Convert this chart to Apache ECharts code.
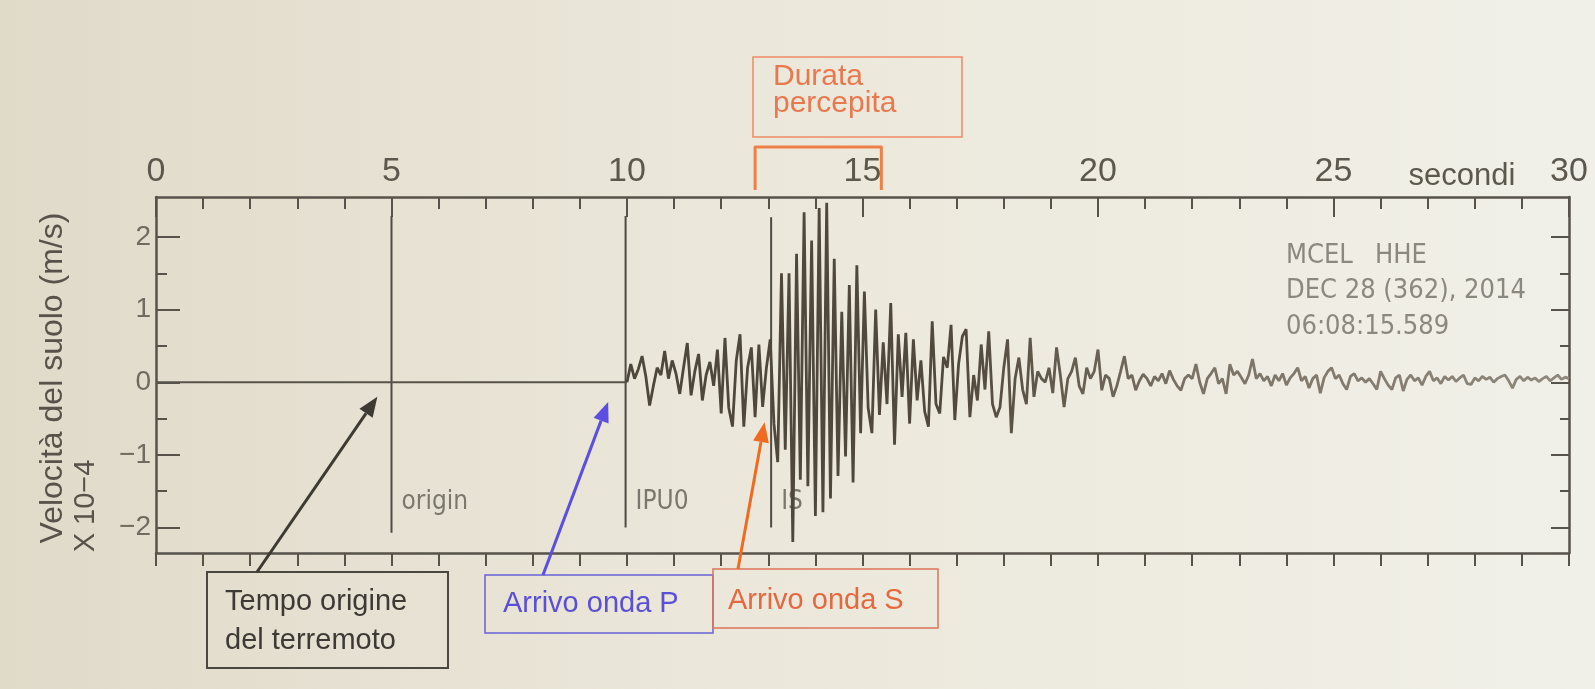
<!DOCTYPE html>
<html>
<head>
<meta charset="utf-8">
<title>Sismogramma MCEL HHE</title>
<script src="https://cdn.jsdelivr.net/npm/echarts@6/dist/echarts.min.js"></script>
<style>
  html, body { margin: 0; padding: 0; }
  #chart { width: 1595px; height: 689px; }
</style>
</head>
<body>
<div id="chart"></div>
<script>
// asse dei tempi (secondi) e della velocita' (x 10^-4 m/s)
const timeMin = 0;
const timeMax = 30;
const timeStep = 5;
const velMin = -2.35;
const velMax = 2.55;
const velTicks = [-2, -1, 0, 1, 2];
const velMinorTicks = [-1.5, -0.5, 0.5, 1.5];

// tratto piatto prima dell'arrivo P
const quietTimes = [0, 10];
const quietValues = [0, 0];

// traccia HHE, un campione ogni 0.08 s da 10 s
const traceStart = 10;
const traceStep = 0.08;
const traceValues = [
  0.00, 0.25, 0.05, 0.18, 0.36, 0.08, -0.32, -0.05, 0.20, 0.10,
  0.43, 0.05, 0.30, 0.12, -0.16, 0.20, 0.54, -0.18, 0.15, 0.39,
  -0.25, 0.10, 0.28, -0.05, 0.45, -0.43, 0.61, -0.35, -0.61, 0.30,
  0.66, -0.61, 0.20, 0.48, -0.48, 0.52, -0.34, 0.20, 0.59, -0.57,
  -1.10, 1.50, -0.93, 1.50, -2.20, 1.77, -1.34, 2.34, -1.43, 1.95,
  -1.84, 2.40, -1.79, 2.47, -1.60, 1.70, -1.29, 0.97, -1.02, 1.34,
  -1.38, 1.61, -0.70, 1.25, -0.35, -0.70, 1.00, -0.45, 0.55, -0.30,
  1.09, -0.86, 0.66, -0.20, 0.68, -0.57, 0.59, -0.25, 0.30, -0.40,
  -0.61, 0.84, -0.30, -0.43, 0.35, 0.20, 0.79, -0.52, 0.25, 0.63,
  0.73, -0.48, 0.10, -0.25, 0.52, -0.10, 0.70, -0.30, -0.48, -0.34,
  0.20, 0.59, -0.70, 0.05, 0.34, -0.10, -0.30, 0.61, -0.20, 0.15,
  0.05, 0.00, 0.20, -0.15, 0.48, 0.10, -0.34, 0.05, 0.15, 0.34,
  -0.05, -0.16, 0.20, 0.05, 0.15, 0.45, -0.11, 0.10, 0.05, -0.20,
  -0.05, 0.15, 0.36, 0.05, 0.10, -0.11, 0.02, 0.11, 0.05, -0.05,
  0.08, 0.02, 0.12, -0.02, 0.16, 0.04, -0.05, -0.11, 0.05, 0.10,
  0.05, 0.25, 0.00, -0.16, 0.05, 0.12, 0.20, -0.02, 0.05, -0.16,
  0.25, 0.10, 0.15, 0.07, -0.02, 0.10, 0.32, 0.05, 0.12, 0.02,
  0.08, -0.05, 0.10, 0.02, 0.12, -0.04, 0.06, 0.12, 0.20, 0.02,
  0.08, -0.08, 0.05, 0.10, -0.15, 0.06, 0.15, 0.20, 0.05, 0.10,
  -0.02, -0.10, 0.08, 0.12, 0.02, 0.06, 0.00, 0.05, -0.02, -0.10,
  0.15, 0.05, -0.04, -0.10, 0.06, 0.10, -0.12, 0.04, 0.10, 0.02,
  0.06, -0.04, 0.08, 0.15, 0.02, 0.06, -0.02, 0.08, 0.03, 0.08,
  0.01, 0.06, 0.10, -0.02, -0.03, 0.06, 0.02, 0.08, 0.04, 0.07,
  0.00, 0.05, 0.08, 0.10, 0.02, -0.08, 0.04, 0.08, 0.02, 0.07,
  0.03, 0.06, 0.01, 0.05, 0.08, 0.02, 0.06, 0.10, 0.04, 0.07,
  0.05
];

// letture (origin, P, S)
const pickTimes = [5, 9.97, 13.06];
const pickLabels = ['origin', 'IPU0', 'IS'];
const pickTop = [2.29, 2.29, 2.27];
const pickBottom = [-2.07, -2.0, -2.0];
const pickLabelLevel = -1.65;

// punte delle frecce e durata percepita (tempo, velocita')
const originTip = [4.7, -0.2];
const pArrivalTip = [9.6, -0.27];
const sArrivalTip = [12.92, -0.55];
const feltDuration = [12.72, 15.4];

const AXIS = '#57534b';
const SANS = '"Liberation Sans", Arial, sans-serif';
const NARROW = '"Liberation Sans Narrow", "DejaVu Sans Condensed", "Liberation Sans", sans-serif';

const chart = echarts.init(document.getElementById('chart'));

const tracePoints = traceValues.map((v, i) => [+(traceStart + i * traceStep).toFixed(2), v]);
const quietPoints = quietTimes.map((t, i) => [t, quietValues[i]]);
const minus = v => String(v).replace('-', '\u2212');

function yAxisBase(position) {
  return {
    type: 'value',
    position: position,
    min: velMin,
    max: velMax,
    splitLine: { show: false },
    axisLine: { show: false, onZero: false }
  };
}

chart.setOption({
  animation: false,
  grid: { left: 156, right: 26, top: 197, bottom: 136, outerBoundsMode: 'none' },
  xAxis: [
    {
      type: 'value',
      position: 'top',
      min: timeMin,
      max: timeMax,
      interval: timeStep,
      splitLine: { show: false },
      axisLine: { onZero: false, lineStyle: { color: AXIS, width: 2.5 } },
      axisTick: { inside: true, length: 20, lineStyle: { color: AXIS, width: 2 } },
      minorTick: { show: true, splitNumber: 5, length: 12, lineStyle: { color: AXIS, width: 2 } },
      axisLabel: { fontSize: 34, fontFamily: SANS, color: '#5c584e', margin: 8, lineHeight: 34 }
    },
    {
      type: 'value',
      position: 'bottom',
      min: timeMin,
      max: timeMax,
      interval: 1,
      splitLine: { show: false },
      axisLine: { onZero: false, lineStyle: { color: AXIS, width: 2.5 } },
      axisTick: { length: 13, lineStyle: { color: AXIS, width: 2 } },
      axisLabel: { show: false }
    }
  ],
  yAxis: [
    Object.assign(yAxisBase('left'), {
      axisLine: { show: true, onZero: false, lineStyle: { color: AXIS, width: 2.5 } },
      axisTick: { inside: true, length: 24, customValues: velTicks, lineStyle: { color: AXIS, width: 2 } },
      axisLabel: {
        customValues: velTicks,
        fontSize: 28,
        fontFamily: SANS,
        color: '#6f6b61',
        margin: 5,
        formatter: minus
      }
    }),
    Object.assign(yAxisBase('left'), {
      axisTick: { inside: true, length: 11, customValues: velMinorTicks, lineStyle: { color: AXIS, width: 2 } },
      axisLabel: { show: false }
    }),
    Object.assign(yAxisBase('right'), {
      axisLine: { show: true, onZero: false, lineStyle: { color: AXIS, width: 2.5 } },
      axisTick: { inside: true, length: 18, customValues: velTicks, lineStyle: { color: AXIS, width: 2 } },
      axisLabel: { show: false }
    }),
    Object.assign(yAxisBase('right'), {
      axisTick: { inside: true, length: 9, customValues: velMinorTicks, lineStyle: { color: AXIS, width: 2 } },
      axisLabel: { show: false }
    })
  ],
  series: [
    {
      name: 'quiet',
      type: 'line',
      data: quietPoints,
      symbol: 'none',
      lineStyle: { color: '#57534b', width: 2.2 },
      z: 3
    },
    {
      name: 'HHE',
      type: 'line',
      data: tracePoints,
      symbol: 'none',
      lineStyle: {
        width: 2.8,
        color: new echarts.graphic.LinearGradient(0, 0, 1, 0, [
          { offset: 0, color: '#4d463a' },
          { offset: 0.35, color: '#52493d' },
          { offset: 0.6, color: '#7a7265' },
          { offset: 1, color: '#8f897c' }
        ])
      },
      z: 3
    },
    {
      name: 'picks',
      type: 'custom',
      clip: false,
      data: pickTimes.map((t, i) => [t, pickTop[i], pickBottom[i]]),
      renderItem: function (params, api) {
        const t = api.value(0);
        const top = api.coord([t, api.value(1)]);
        const bot = api.coord([t, api.value(2)]);
        const lab = api.coord([t, pickLabelLevel]);
        return {
          type: 'group',
          children: [
            {
              type: 'line',
              shape: { x1: top[0], y1: top[1], x2: bot[0], y2: bot[1] },
              style: { stroke: '#4f4b44', lineWidth: 2 }
            },
            {
              type: 'text',
              x: lab[0] + 10,
              y: lab[1],
              style: {
                text: pickLabels[params.dataIndex],
                fill: '#7b776d',
                fontSize: 26,
                fontFamily: NARROW,
                verticalAlign: 'middle'
              }
            }
          ]
        };
      },
      z: 2
    }
  ]
});

// annotazioni
function px(p) {
  return chart.convertToPixel({ xAxisIndex: 0, yAxisIndex: 0 }, p);
}

function arrow(tail, tip, color, width) {
  const dx = tip[0] - tail[0];
  const dy = tip[1] - tail[1];
  const len = Math.hypot(dx, dy);
  const ux = dx / len, uy = dy / len;
  const headLen = 20, headW = 8;
  const base = [tip[0] - ux * headLen, tip[1] - uy * headLen];
  return [
    {
      type: 'line', z: 100,
      shape: { x1: tail[0], y1: tail[1], x2: base[0], y2: base[1] },
      style: { stroke: color, lineWidth: width }
    },
    {
      type: 'polygon', z: 100,
      shape: { points: [tip, [base[0] - uy * headW, base[1] + ux * headW], [base[0] + uy * headW, base[1] - ux * headW]] },
      style: { fill: color }
    }
  ];
}

function box(x, y, w, h, color, width) {
  return {
    type: 'rect', z: 100,
    shape: { x: x, y: y, width: w, height: h },
    style: { fill: 'none', stroke: color, lineWidth: width }
  };
}

function label(text, x, y, color, size, family, extra) {
  return Object.assign({
    type: 'text', z: 100,
    x: x, y: y,
    style: { text: text, fill: color, fontSize: size, fontFamily: family, verticalAlign: 'middle' }
  }, extra || {});
}

function rotated(text, x, y, color, size) {
  return {
    type: 'text', z: 100,
    x: x, y: y,
    rotation: Math.PI / 2,
    style: { text: text, fill: color, fontSize: size, fontFamily: SANS, align: 'center', verticalAlign: 'middle' }
  };
}

const d0 = px([feltDuration[0], 0])[0];
const d1 = px([feltDuration[1], 0])[0];

chart.setOption({
  graphic: [
    {
      type: 'rect', z: -10, silent: true,
      shape: { x: 0, y: 0, width: 1595, height: 689 },
      style: {
        fill: new echarts.graphic.LinearGradient(0, 0, 1, 0, [
          { offset: 0, color: '#e0dac9' },
          { offset: 0.45, color: '#ebe7da' },
          { offset: 1, color: '#f1f0e8' }
        ])
      }
    },
    // titolo asse y
    rotated('Velocità del suolo (m/s)', 53, 378, '#57534b', 32),
    rotated('X 10\u22124', 86, 506, '#57534b', 29),
    label('secondi', 1462, 176, '#5c584e', 31, SANS, {
      style: { text: 'secondi', fill: '#5c584e', fontSize: 31, fontFamily: SANS, align: 'center', verticalAlign: 'middle' }
    }),
    // stazione
    label('MCEL', 1286, 256, '#8b887f', 27, NARROW),
    label('HHE', 1375, 256, '#8b887f', 27, NARROW),
    label('DEC 28 (362), 2014', 1286, 291, '#8b887f', 27, NARROW),
    label('06:08:15.589', 1286, 327, '#8b887f', 27, NARROW),
    // tempo origine
    box(207, 572, 241, 96, '#4a4741', 2),
    label('Tempo origine', 225, 602, '#3d3a35', 29, SANS),
    label('del terremoto', 225, 641, '#3d3a35', 29, SANS),
    ...arrow([257, 572], px(originTip), '#3d3a33', 3),
    // onda P
    box(485, 575, 228, 58, '#6a60d8', 1.5),
    label('Arrivo onda P', 503, 604, '#5a4fd6', 29, SANS),
    ...arrow([543, 575], px(pArrivalTip), '#5b4ee0', 3),
    // onda S
    box(713, 569, 225, 59, '#e0735a', 1.5),
    label('Arrivo onda S', 728, 601, '#e5683f', 29, SANS),
    ...arrow([738, 569], px(sArrivalTip), '#f06a20', 3),
    // durata percepita
    box(753, 57, 209, 80, '#ee8a66', 1.5),
    label('Durata', 773, 77, '#e8794f', 30, SANS),
    label('percepita', 773, 104, '#e8794f', 30, SANS),
    {
      type: 'polyline', z: 100,
      shape: { points: [[d0, 190], [d0, 147], [d1, 147], [d1, 190]] },
      style: { stroke: '#ee8047', lineWidth: 3, lineJoin: 'round', fill: 'none' }
    }
  ]
});
</script>
</body>
</html>
